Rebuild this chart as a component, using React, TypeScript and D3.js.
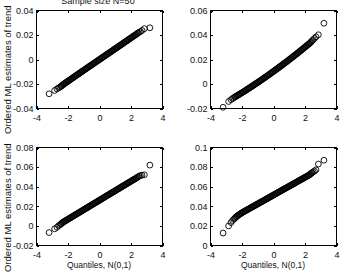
import * as d3 from 'd3';
import { useEffect, useRef } from 'react';

// standard normal quantiles shared by all four QQ plots
const quantiles = [
  -3.2, -2.85, -2.7, -2.6, -2.52, -2.45, -2.4, -2.35,
  -2.3, -2.25, -2.2, -2.15, -2.1, -2.05, -2.0, -1.95, -1.9, -1.85,
  -1.8, -1.75, -1.7, -1.65, -1.6, -1.55, -1.5, -1.45, -1.4, -1.35,
  -1.3, -1.25, -1.2, -1.15, -1.1, -1.05, -1.0, -0.95, -0.9, -0.85,
  -0.8, -0.75, -0.7, -0.65, -0.6, -0.55, -0.5, -0.45, -0.4, -0.35,
  -0.3, -0.25, -0.2, -0.15, -0.1, -0.05, 0,
  0.05, 0.1, 0.15, 0.2, 0.25, 0.3, 0.35, 0.4, 0.45, 0.5,
  0.55, 0.6, 0.65, 0.7, 0.75, 0.8, 0.85, 0.9, 0.95, 1.0,
  1.05, 1.1, 1.15, 1.2, 1.25, 1.3, 1.35, 1.4, 1.45, 1.5,
  1.55, 1.6, 1.65, 1.7, 1.75, 1.8, 1.85, 1.9, 1.95, 2.0,
  2.05, 2.1, 2.15, 2.2, 2.25, 2.3,
  2.35, 2.4, 2.45, 2.52, 2.6, 2.7, 2.85, 3.2,
];

// ordered ML trend estimates, one list per panel
const trendTopLeft = [
  -0.028, -0.0253, -0.024, -0.0232, -0.0226, -0.022, -0.0215, -0.0209,
  -0.0204, -0.0199, -0.0195, -0.019, -0.0186, -0.0181, -0.0177, -0.0172, -0.0168, -0.0164,
  -0.0159, -0.0155, -0.015, -0.0146, -0.0141, -0.0137, -0.0132, -0.0128, -0.0123, -0.0119,
  -0.0115, -0.011, -0.0106, -0.0101, -0.0097, -0.0092, -0.0088, -0.0084, -0.0079, -0.0075,
  -0.007, -0.0066, -0.0061, -0.0057, -0.0053, -0.0048, -0.0044, -0.004, -0.0035, -0.0031,
  -0.0026, -0.0022, -0.0018, -0.0013, -0.0009, -0.0004, 0.0,
  0.0004, 0.0009, 0.0013, 0.0018, 0.0022, 0.0026, 0.0031, 0.0035, 0.004, 0.0044,
  0.0048, 0.0053, 0.0057, 0.0061, 0.0066, 0.007, 0.0075, 0.0079, 0.0084, 0.0088,
  0.0092, 0.0097, 0.0101, 0.0106, 0.011, 0.0114, 0.0119, 0.0123, 0.0128, 0.0132,
  0.0137, 0.0141, 0.0146, 0.015, 0.0154, 0.0159, 0.0163, 0.0168, 0.0172, 0.0176,
  0.0181, 0.0185, 0.019, 0.0194, 0.0198, 0.0202,
  0.0207, 0.0212, 0.0217, 0.0222, 0.0228, 0.0237, 0.0252, 0.0259,
];

const trendTopRight = [
  -0.019, -0.0143, -0.0128, -0.0119, -0.0112, -0.0106, -0.0102, -0.0098,
  -0.0095, -0.0091, -0.0087, -0.0083, -0.0079, -0.0075, -0.0071, -0.0067, -0.0063, -0.0059,
  -0.0055, -0.0051, -0.0046, -0.0042, -0.0038, -0.0034, -0.003, -0.0026, -0.0021, -0.0017,
  -0.0013, -0.0009, -0.0004, 0.0, 0.0004, 0.0009, 0.0013, 0.0017, 0.0022, 0.0026,
  0.0031, 0.0035, 0.0039, 0.0044, 0.0048, 0.0053, 0.0057, 0.0062, 0.0066, 0.0071,
  0.0075, 0.008, 0.0085, 0.0089, 0.0094, 0.0098, 0.0103,
  0.0108, 0.0112, 0.0117, 0.0122, 0.0126, 0.0131, 0.0136, 0.0141, 0.0146, 0.015,
  0.0155, 0.016, 0.0165, 0.017, 0.0174, 0.0179, 0.0184, 0.0189, 0.0194, 0.0199,
  0.0204, 0.0209, 0.0214, 0.0219, 0.0224, 0.0229, 0.0234, 0.0239, 0.0244, 0.0249,
  0.0254, 0.0259, 0.0265, 0.027, 0.0275, 0.028, 0.0285, 0.0291, 0.0296, 0.0301,
  0.0306, 0.0312, 0.0317, 0.0322, 0.0327, 0.0333,
  0.0339, 0.0346, 0.0353, 0.0362, 0.0372, 0.0385, 0.0402, 0.0496,
];

const trendBottomLeft = [
  -0.0068, -0.003, -0.0014, 0.0001, 0.001, 0.0019, 0.0026, 0.0033,
  0.0039, 0.0044, 0.0049, 0.0053, 0.0058, 0.0063, 0.0068, 0.0073, 0.0078, 0.0083,
  0.0087, 0.0092, 0.0097, 0.0102, 0.0107, 0.0112, 0.0117, 0.0121, 0.0126, 0.0131,
  0.0136, 0.0141, 0.0146, 0.015, 0.0155, 0.016, 0.0165, 0.017, 0.0175, 0.018,
  0.0184, 0.0189, 0.0194, 0.0199, 0.0204, 0.0209, 0.0214, 0.0218, 0.0223, 0.0228,
  0.0233, 0.0238, 0.0243, 0.0247, 0.0252, 0.0257, 0.0262,
  0.0267, 0.0272, 0.0277, 0.0281, 0.0286, 0.0291, 0.0296, 0.0301, 0.0306, 0.0311,
  0.0315, 0.032, 0.0325, 0.033, 0.0335, 0.034, 0.0344, 0.0349, 0.0354, 0.0359,
  0.0364, 0.0369, 0.0374, 0.0378, 0.0383, 0.0388, 0.0393, 0.0398, 0.0403, 0.0408,
  0.0412, 0.0417, 0.0422, 0.0427, 0.0432, 0.0437, 0.0441, 0.0446, 0.0451, 0.0456,
  0.0461, 0.0466, 0.0471, 0.0475, 0.048, 0.0485,
  0.049, 0.0495, 0.0501, 0.0508, 0.0513, 0.0518, 0.0522, 0.062,
];

const trendBottomRight = [
  0.0127, 0.02, 0.0234, 0.0255, 0.0268, 0.0279, 0.0287, 0.0294,
  0.0301, 0.0307, 0.0313, 0.0319, 0.0324, 0.0329, 0.0334, 0.0339, 0.0344, 0.0348,
  0.0353, 0.0357, 0.0362, 0.0366, 0.0371, 0.0375, 0.038, 0.0384, 0.0389, 0.0393,
  0.0398, 0.0402, 0.0407, 0.0411, 0.0416, 0.042, 0.0425, 0.0429, 0.0434, 0.0438,
  0.0443, 0.0447, 0.0452, 0.0456, 0.0461, 0.0465, 0.047, 0.0474, 0.0479, 0.0483,
  0.0488, 0.0492, 0.0497, 0.0501, 0.0506, 0.051, 0.0515,
  0.052, 0.0524, 0.0529, 0.0533, 0.0538, 0.0542, 0.0547, 0.0551, 0.0556, 0.056,
  0.0565, 0.0569, 0.0574, 0.0578, 0.0583, 0.0587, 0.0592, 0.0596, 0.0601, 0.0605,
  0.061, 0.0614, 0.0619, 0.0623, 0.0628, 0.0632, 0.0637, 0.0641, 0.0646, 0.065,
  0.0655, 0.0659, 0.0664, 0.0668, 0.0673, 0.0677, 0.0682, 0.0686, 0.0691, 0.0695,
  0.07, 0.0704, 0.0709, 0.0713, 0.0718, 0.0722,
  0.0731, 0.0737, 0.0743, 0.0751, 0.076, 0.0772, 0.0831, 0.087,
];

const xTicks = [-4, -2, 0, 2, 4];
const yTicksTopLeft = [-0.04, -0.02, 0, 0.02, 0.04];
const yTicksTopRight = [-0.02, 0, 0.02, 0.04, 0.06];
const yTicksBottomLeft = [-0.02, 0, 0.02, 0.04, 0.06, 0.08];
const yTicksBottomRight = [0, 0.02, 0.04, 0.06, 0.08, 0.1];

const title = 'Sample size N=50';
const yLabel = 'Ordered ML estimates of trend';
const xLabel = 'Quantiles, N(0,1)';

const font = "'Liberation Sans', Arial, sans-serif";
const fmt = (d: number) => String(+d.toFixed(2));

export default function App() {
  const ref = useRef<SVGSVGElement>(null);

  useEffect(() => {
    const svg = d3.select(ref.current);
    svg.selectAll('*').remove();

    const w = 126;
    const h = 98;
    const tick = 2.5;

    const panels = [
      { values: trendTopLeft, yTicks: yTicksTopLeft, left: 36, top: 10, col: 0, row: 0 },
      { values: trendTopRight, yTicks: yTicksTopRight, left: 210, top: 10, col: 1, row: 0 },
      { values: trendBottomLeft, yTicks: yTicksBottomLeft, left: 36, top: 147, col: 0, row: 1 },
      { values: trendBottomRight, yTicks: yTicksBottomRight, left: 210, top: 147, col: 1, row: 1 },
    ];

    panels.forEach((p) => {
      const g = svg
        .append('g')
        .attr('transform', `translate(${p.left + 0.5},${p.top + 0.5})`);

      const x = d3.scaleLinear().domain([-4, 4]).range([0, w]);
      const y = d3
        .scaleLinear()
        .domain([p.yTicks[0], p.yTicks[p.yTicks.length - 1]])
        .range([h, 0]);

      const styleAxis = (a: d3.Selection<SVGGElement, unknown, null, undefined>) => {
        a.attr('font-family', font).attr('font-size', 9);
        a.select('.domain').remove();
        a.selectAll('line').attr('stroke', '#000').attr('shape-rendering', 'crispEdges');
        a.selectAll('text').attr('fill', '#111');
      };

      g.append('g')
        .attr('transform', `translate(0,${h})`)
        .call(d3.axisBottom(x).tickValues(xTicks).tickFormat((d) => fmt(+d)).tickSizeInner(-tick).tickSizeOuter(0).tickPadding(6.5))
        .call(styleAxis);
      g.append('g')
        .call(d3.axisTop(x).tickValues(xTicks).tickFormat(() => '').tickSizeInner(-tick).tickSizeOuter(0))
        .call(styleAxis);
      g.append('g')
        .call(d3.axisLeft(y).tickValues(p.yTicks).tickFormat((d) => fmt(+d)).tickSizeInner(-tick).tickSizeOuter(0).tickPadding(3))
        .call(styleAxis);
      g.append('g')
        .attr('transform', `translate(${w},0)`)
        .call(d3.axisRight(y).tickValues(p.yTicks).tickFormat(() => '').tickSizeInner(-tick).tickSizeOuter(0))
        .call(styleAxis);

      g.append('rect')
        .attr('width', w)
        .attr('height', h)
        .attr('fill', 'none')
        .attr('stroke', '#000')
        .attr('shape-rendering', 'crispEdges');

      g.selectAll('circle')
        .data(p.values)
        .enter()
        .append('circle')
        .attr('cx', (_, i) => x(quantiles[i]))
        .attr('cy', (d) => y(d))
        .attr('r', 2.9)
        .attr('fill', 'none')
        .attr('stroke', '#000')
        .attr('stroke-width', 0.9);

      if (p.col === 0) {
        svg
          .append('text')
          .attr('transform', `translate(11,${p.top + h + (p.row === 0 ? 26 : 27)}) rotate(-90)`)
          .attr('font-family', font)
          .attr('font-size', 9.5)
          .attr('fill', '#111')
          .style('text-anchor', 'start')
          .text(yLabel);
      }
      if (p.row === 1) {
        svg
          .append('text')
          .attr('x', p.left + w / 2)
          .attr('y', 268)
          .attr('font-family', font)
          .attr('font-size', 8.5)
          .attr('fill', '#111')
          .style('text-anchor', 'middle')
          .text(xLabel);
      }
    });

    svg
      .append('text')
      .attr('x', 36 + w / 2 - 1)
      .attr('y', 3.5)
      .attr('font-family', font)
      .attr('font-size', 9)
      .attr('fill', '#111')
      .style('text-anchor', 'middle')
      .text(title);
  }, []);

  return (
    <svg
      ref={ref}
      width={340}
      height={273}
      style={{ position: 'absolute', left: 0, top: 0, background: '#fff' }}
    />
  );
}
